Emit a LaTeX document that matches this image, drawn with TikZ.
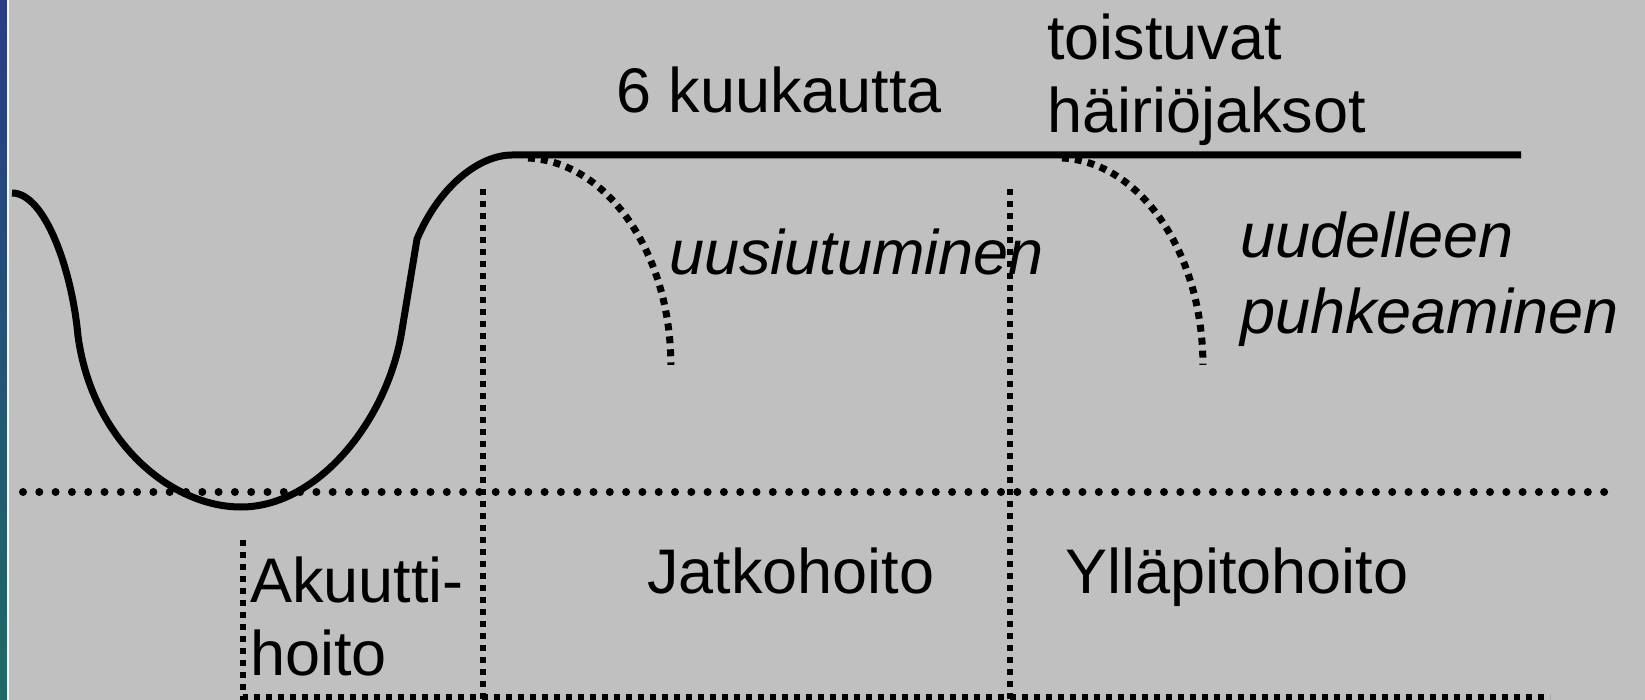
\documentclass[tikz,border=0pt]{standalone}
\usepackage{fontspec}
\setmainfont{Liberation Sans}
\usetikzlibrary{shadings}
\definecolor{panel}{HTML}{C0C0C0}
\definecolor{stripTop}{HTML}{283C86}
\definecolor{stripBottom}{HTML}{1E6A66}
\begin{document}
\begin{tikzpicture}[x=1pt,y=-1pt,
  label/.style={inner sep=0pt,font=\fontsize{63}{73}\selectfont,align=left},
  course/.style={line width=7pt,line cap=butt},
  thresh/.style={line width=8pt,line cap=round,dash pattern=on 0pt off 16.3pt},
  phase/.style={line width=6pt,dash pattern=on 6pt off 6pt},
  relapse/.style={line width=7pt,dash pattern=on 7pt off 6pt}]
  \useasboundingbox (0,0) rectangle (1645,700);
  \fill[panel] (0,0) rectangle (1645,700);
  % side strip
  \shade[top color=stripTop,bottom color=stripBottom] (0,0) rectangle (7,700);
  \fill[white!85!panel] (7,0) rectangle (9,700);

  % time phases
  \draw[thresh] (23,492) -- (1605,492);
  \draw[phase] (483,189) -- (483,700);
  \draw[phase] (1010,189) -- (1010,700);
  \draw[phase] (243,540) -- (243,697) -- (1550,697);

  % course of the episode
  \coordinate (c0) at (12,193);
  \coordinate (c1) at (78,336);
  \coordinate (c2) at (241,507);
  \coordinate (c3) at (402,330);
  \coordinate (c4) at (417,239);
  \coordinate (c5) at (512,155);
  \coordinate (c6) at (1521,155);
  \draw[course] (c0) .. controls (45,193) and (72,270) .. (c1)
    .. controls (92,440) and (170,507) .. (c2)
    .. controls (318,507) and (388,420) .. (c3)
    -- (c4)
    .. controls (440,185) and (480,155) .. (c5) -- (c6);

  % relapse and recurrence
  \draw[relapse] (528,158) arc[start angle=-88,end angle=0,x radius=148,y radius=207];
  \draw[relapse] (1062,158) arc[start angle=-88,end angle=0,x radius=146,y radius=207];

  % labels
  \node[label,anchor=base west] (six) at (616,113) {6 kuukautta};
  \node[label,anchor=base west] (recur) at (1047,133) {toistuvat\\häiriöjaksot};
  \node[label,anchor=base west,font=\fontsize{63}{73}\selectfont\itshape] (relapseT) at (669,275) {uusiutuminen};
  \node[label,anchor=base west,font=\fontsize{63}{76}\selectfont\itshape] (recurT) at (1240,334) {uudelleen\\puhkeaminen};
  \node[label,anchor=base west] (acute) at (250,675) {Akuutti-\\hoito};
  \node[label,anchor=base west] (cont) at (647,593) {Jatkohoito};
  \node[label,anchor=base west] (maint) at (1065,593) {Ylläpitohoito};
\end{tikzpicture}
\end{document}
